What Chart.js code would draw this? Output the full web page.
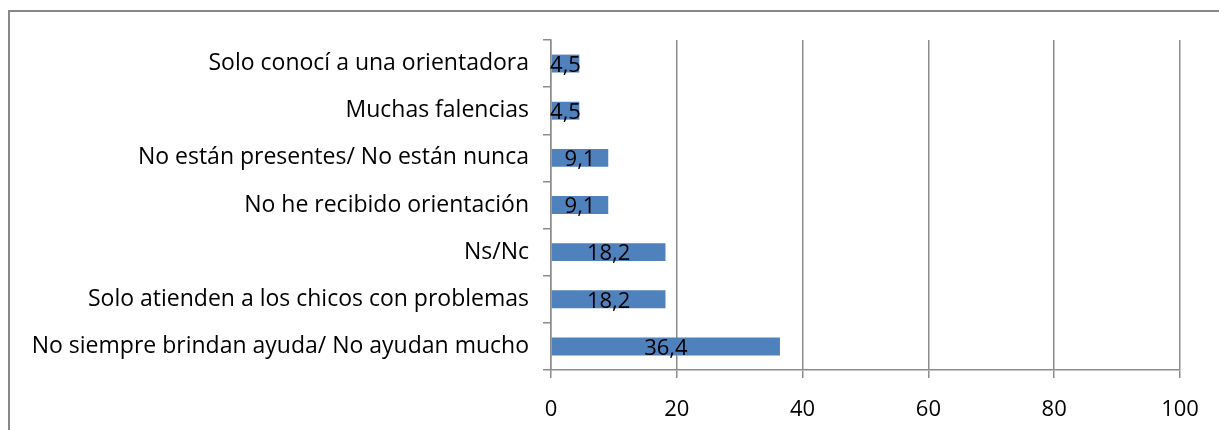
<!DOCTYPE html>
<html>
<head>
<meta charset="utf-8">
<script src="https://cdn.jsdelivr.net/npm/chart.js@4"></script>
<style>
  html, body { margin:0; padding:0; background:#fff; }
  #wrap { position:relative; width:1219px; height:430px; overflow:hidden; }
  #frame { position:absolute; left:8px; top:10px; width:1240px; height:450px; border:2px solid #888; }
  #chart { position:absolute; left:0; top:0; }
</style>
</head>
<body>
<div id="wrap">
  <div id="frame"></div>
  <canvas id="chart" width="1219" height="430"></canvas>
</div>
<script>
const categories = [
  "Solo conocí a una orientadora",
  "Muchas falencias",
  "No están presentes/ No están nunca",
  "No he recibido orientación",
  "Ns/Nc",
  "Solo atienden a los chicos con problemas",
  "No siempre brindan ayuda/ No ayudan mucho"
];
const values = [4.5, 4.5, 9.1, 9.1, 18.2, 18.2, 36.4];
const xTicks = [0, 20, 40, 60, 80, 100];

const FONT = "'Open Sans'";

const barLabels = {
  id: "barLabels",
  afterDatasetsDraw(chart){
    const ctx = chart.ctx;
    const meta = chart.getDatasetMeta(0);
    ctx.save();
    ctx.font = "22px " + FONT;
    ctx.fillStyle = "#000";
    ctx.textAlign = "center";
    ctx.textBaseline = "middle";
    meta.data.forEach((bar, i) => {
      const cx = (bar.x + bar.base) / 2;
      ctx.fillText(values[i].toFixed(1).replace(".", ","), cx, bar.y + 2);
    });
    ctx.restore();
  }
};

new Chart(document.getElementById("chart"), {
  type: "bar",
  data: {
    labels: categories,
    datasets: [{
      data: values,
      backgroundColor: "#4F81BD",
      borderWidth: 0,
      barPercentage: 0.38,
      categoryPercentage: 1
    }]
  },
  options: {
    indexAxis: "y",
    responsive: false,
    animation: false,
    layout: { padding: { top: 40, right: 39, bottom: 0, left: 0 } },
    plugins: { legend: { display: false }, tooltip: { enabled: false } },
    scales: {
      x: {
        min: 0, max: 100,
        afterBuildTicks(s){ s.ticks = xTicks.map(v => ({ value: v })); },
        afterFit(s){ s.height = 60; },
        grid: { color: "#8c8c8c", lineWidth: 1.5, tickLength: 8, drawTicks: true },
        border: { display: true, color: "#8c8c8c", width: 1.5 },
        ticks: { color: "#000", font: { family: FONT, size: 22 }, padding: 19, maxRotation: 0 }
      },
      y: {
        afterFit(s){ s.width = 551; },
        grid: { display: true, drawOnChartArea: false, offset: true, color: "#8c8c8c", lineWidth: 1.5, tickLength: 8 },
        border: { display: true, color: "#8c8c8c", width: 1.5 },
        ticks: { color: "#000", font: { family: FONT, size: 23 }, padding: 14, autoSkip: false }
      }
    }
  },
  plugins: [barLabels]
});
</script>
</body>
</html>
